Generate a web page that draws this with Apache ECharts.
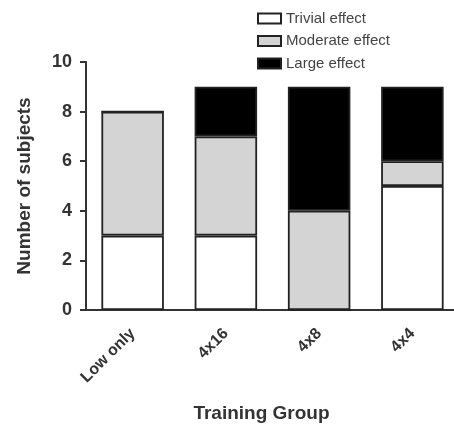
<!DOCTYPE html>
<html><head><meta charset="utf-8">
<script src="https://cdn.jsdelivr.net/npm/echarts@6/dist/echarts.min.js"></script>
<style>html,body{margin:0;padding:0;background:#fff;overflow:hidden}#c{width:454px;height:426px}</style>
</head><body><div id="c"></div>
<script>
const categories = ['Low only', '4x16', '4x8', '4x4'];
const trivial = [3, 3, 0, 5];
const moderate = [5, 4, 4, 1];
const large = [0, 2, 5, 3];
const yTicks = [0, 2, 4, 6, 8, 10];

const chart = echarts.init(document.getElementById('c'));
const font = 'Liberation Sans, Arial, sans-serif';
const bar = (name, data, color) => ({
  name, type: 'bar', stack: 'total', data, barWidth: '67%',
  itemStyle: { color, borderColor: '#222', borderWidth: 1.8 },
  emphasis: { disabled: true }
});
chart.setOption({
  animation: false,
  textStyle: { fontFamily: font },
  legend: {
    orient: 'vertical', left: 252, top: 6, itemGap: 7.5,
    icon: 'rect', itemWidth: 23, itemHeight: 10,
    textStyle: { fontSize: 15, lineHeight: 15, color: '#444', fontFamily: font },
    data: ['Trivial effect', 'Moderate effect', 'Large effect']
  },
  grid: { left: 86, width: 373, top: 62, bottom: 116, outerBoundsMode: 'none', containLabel: false },
  xAxis: {
    type: 'category', data: categories,
    name: 'Training Group', nameLocation: 'middle', nameGap: 94,
    nameTextStyle: { fontSize: 19, fontWeight: 'bold', color: '#333', padding: [0, 22, 0, 0] },
    axisLine: { lineStyle: { color: '#333', width: 2 } },
    axisTick: { alignWithLabel: true, length: 6, lineStyle: { width: 2, color: '#333' } },
    axisLabel: { rotate: 45, fontSize: 16, fontWeight: 'bold', color: '#333', margin: 21 }
  },
  yAxis: {
    type: 'value', min: 0, max: 10, interval: 2,
    name: 'Number of subjects', nameLocation: 'middle', nameGap: 52,
    nameTextStyle: { fontSize: 19, fontWeight: 'bold', color: '#333' },
    axisLine: { show: true, lineStyle: { color: '#333', width: 2 } },
    axisTick: { show: true, length: 6, lineStyle: { width: 2, color: '#333' } },
    splitLine: { show: false },
    axisLabel: { fontSize: 18, fontWeight: 'bold', color: '#333', margin: 14,
      formatter: v => yTicks.includes(v) ? String(v) : '' }
  },
  series: [
    bar('Trivial effect', trivial, '#ffffff'),
    bar('Moderate effect', moderate, '#d4d4d4'),
    bar('Large effect', large, '#000000')
  ]
});
</script></body></html>
